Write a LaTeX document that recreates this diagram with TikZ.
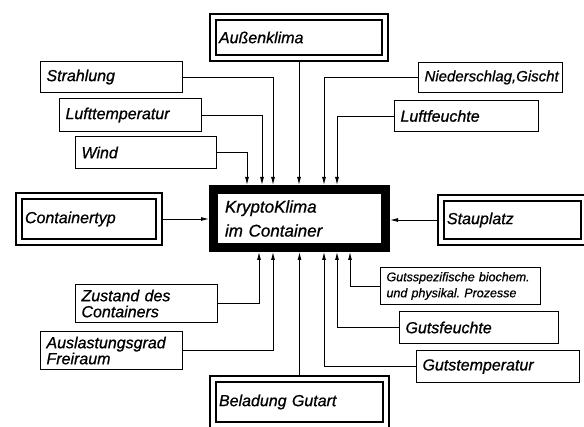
\documentclass[tikz,border=0pt]{standalone}
\usepackage{fontspec}
\setmainfont{Liberation Sans}[ItalicFeatures={FakeBold=0.8}]
\usetikzlibrary{arrows.meta}
\frenchspacing
\tikzset{
  box/.style={draw, line width=1.4pt, inner xsep=6pt, inner ysep=2pt,
    text width=#1, align=left, font=\itshape\fontsize{16}{16}\selectfont},
  dbox/.style={box=#1, double, double distance=4.5pt, line width=1.6pt,
    outer sep=3.8pt},
  smallbox/.style={box=#1, font=\itshape\fontsize{12.5}{16}\selectfont},
  mainbox/.style={draw, line width=9pt, inner xsep=11.5pt, text width=149pt,
    minimum width=172pt, minimum height=58pt, align=left,
    font=\itshape\fontsize{17}{24}\selectfont},
  arr/.style={line width=0.9pt, -{Latex[length=8pt,width=4pt]}}
}
\begin{document}
\begin{tikzpicture}[x=1pt,y=-1pt]
  \useasboundingbox (0,0) rectangle (584,427);

  \node (kk) [mainbox] at (299.5,218.5) {KryptoKlima\\im Container};

  % top
  \node (aussen) [dbox=160pt, minimum height=41pt] at (299,37.5) {Außenklima};
  \node (strahlung) [box=130pt, minimum height=30.5pt] at (111.5,77) {Strahlung};
  \node (lufttemp) [box=130pt, minimum height=32.5pt] at (130.5,115) {Lufttemperatur};
  \node (wind) [box=129pt, minimum height=31.5pt] at (146,152.5) {Wind};
  \node (nieder) [box=132pt, minimum height=29.5pt,
    font=\itshape\fontsize{15}{16}\selectfont] at (490.5,77.5) {Niederschlag,Gischt};
  \node (luftfeuchte) [box=132pt, minimum height=30.5pt] at (466.5,116) {Luftfeuchte};

  % sides
  \node (ctyp) [dbox=128pt, minimum height=46pt] at (89,219) {Containertyp};
  \node (stau) [dbox=131pt, minimum height=44pt] at (512.5,220) {Stauplatz};

  % bottom
  \node (zustand) [box=130pt, minimum height=37.5pt] at (146.5,303.5) {Zustand des\\Containers};
  \node (auslast) [box=130pt, minimum height=37.5pt] at (111.5,350.5) {Auslastungsgrad\\Freiraum};
  \node (gutsspez) [smallbox=148pt, minimum height=36.5pt] at (460.5,286) {Gutsspezifische biochem.\\und physikal. Prozesse};
  \node (gutsfeuchte) [box=147pt, minimum height=31.5pt] at (479,327.5) {Gutsfeuchte};
  \node (gutstemp) [box=151pt, minimum height=31.5pt] at (498,366.5) {Gutstemperatur};
  \node (beladung) [dbox=161pt, minimum height=46pt] at (299.5,402) {Beladung Gutart};

  \draw[arr] (aussen.south) -- (aussen.south |- kk.north);
  \draw[arr] (strahlung.east) -| ([xshift=64pt]kk.north west);
  \draw[arr] (lufttemp.east) -| ([xshift=53pt]kk.north west);
  \draw[arr] (wind.east) -| ([xshift=38pt]kk.north west);
  \draw[arr] (nieder.west) -| ([xshift=115pt]kk.north west);
  \draw[arr] (luftfeuchte.west) -| ([xshift=128pt]kk.north west);

  \draw[arr] (ctyp.east) -- (ctyp.east -| kk.west);
  \draw[arr] (stau.west) -- (stau.west -| kk.east);

  \draw[arr] (zustand.east) -| ([xshift=50pt]kk.south west);
  \draw[arr] (auslast.east) -| ([xshift=64pt]kk.south west);
  \draw[arr] (gutsspez.west) -| ([xshift=141pt]kk.south west);
  \draw[arr] (gutsfeuchte.west) -| ([xshift=128pt]kk.south west);
  \draw[arr] (gutstemp.west) -| ([xshift=115pt]kk.south west);
  \draw[arr] (beladung.north) -- (beladung.north |- kk.south);
\end{tikzpicture}
\end{document}
